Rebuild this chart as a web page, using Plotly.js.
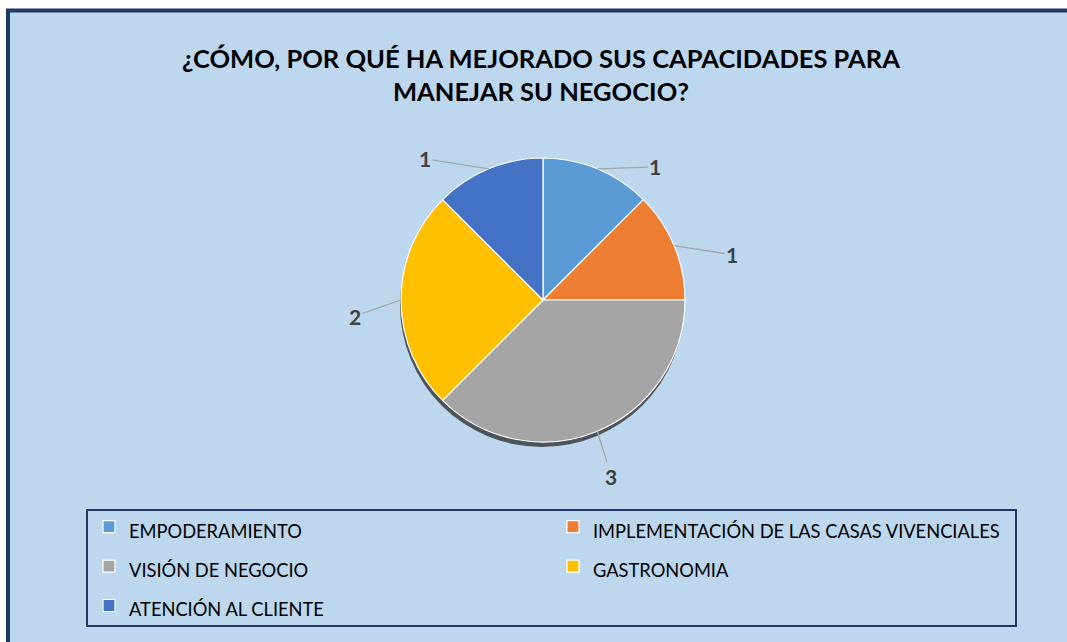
<!DOCTYPE html>
<html>
<head>
<meta charset="utf-8">
<script src="https://cdn.plot.ly/plotly-3.0.1.min.js"></script>
<style>
  html, body { margin: 0; padding: 0; background: #ffffff; }
  #chart { width: 1067px; height: 642px; }
</style>
</head>
<body>
<div id="chart"></div>
<script>
// ---- data ----
const categories = [
  'EMPODERAMIENTO',
  'IMPLEMENTACIÓN DE LAS CASAS VIVENCIALES',
  'VISIÓN DE NEGOCIO',
  'GASTRONOMIA',
  'ATENCIÓN AL CLIENTE'
];
const values = [1, 1, 3, 2, 1];
const titleText = '¿CÓMO, POR QUÉ HA MEJORADO SUS CAPACIDADES PARA<br>MANEJAR SU NEGOCIO?';

// ---- style ----
const sliceColors = ['#5B9BD5', '#ED7D31', '#A5A5A5', '#FFC000', '#4472C4'];
const labelOffsets = [[58, -2], [58, 9], [14, 45], [-46, 16], [-64, -10]]; // px offsets of value labels
const W = 1067, H = 642;
const CX = 543, CY = 300, R = 142;   // pie centre / radius in px
const navy = '#1F3864';

const domainX = [(CX - R) / W, (CX + R) / W];
const domainY = [1 - (CY + R) / H, 1 - (CY - R) / H];
const shadowDY = 5;

const shadow = {
  type: 'pie',
  values: [1],
  labels: ['shadow'],
  showlegend: false,
  sort: false,
  textinfo: 'none',
  hoverinfo: 'skip',
  marker: { colors: ['rgba(40,40,40,0.75)'], line: { width: 0 } },
  domain: { x: [domainX[0] - 1 / W, domainX[1] - 1 / W], y: [domainY[0] - shadowDY / H, domainY[1] - shadowDY / H] }
};

const pie = {
  type: 'pie',
  values: values,
  labels: categories.map(c => '<span style="font-size:18.3px">' + c + '</span>'),
  sort: false,
  direction: 'clockwise',
  rotation: 0,
  textinfo: 'none',
  hoverinfo: 'label+value',
  marker: { colors: sliceColors, line: { color: '#ffffff', width: 1.2 } },
  domain: { x: domainX, y: domainY }
};

// value labels with leader lines, anchored at slice mid-angle on the rim
const total = values.reduce((a, b) => a + b, 0);
let cum = 0;
const annotations = values.map((v, i) => {
  const mid = (cum + v / 2) / total * 2 * Math.PI;
  cum += v;
  const px = CX + R * Math.sin(mid);
  const py = CY - R * Math.cos(mid);
  return {
    xref: 'paper', yref: 'paper',
    x: px / W, y: 1 - py / H,
    ax: labelOffsets[i][0], ay: labelOffsets[i][1],
    text: String(v),
    showarrow: true, arrowhead: 0, arrowwidth: 1.3, arrowcolor: '#A6A6A6', standoff: 0,
    font: { family: 'Lato', size: 21, weight: 700, color: '#404040' }
  };
});

const shapes = [
  // chart area frame
  { type: 'rect', xref: 'paper', yref: 'paper', layer: 'below',
    x0: 8 / W, x1: 1.05, y0: -0.05, y1: 1 - 10.5 / H,
    fillcolor: '#BDD7EE', line: { color: navy, width: 4 } },
  // legend box
  { type: 'rect', xref: 'paper', yref: 'paper', layer: 'below',
    x0: 87 / W, x1: 1016 / W, y0: 1 - 626 / H, y1: 1 - 510 / H,
    fillcolor: 'rgba(0,0,0,0)', line: { color: navy, width: 2 } }
];

const layout = {
  width: W, height: H,
  margin: { l: 0, r: 0, t: 0, b: 0 },
  paper_bgcolor: '#ffffff',
  plot_bgcolor: 'rgba(0,0,0,0)',
  font: { family: 'Lato, "Liberation Sans", sans-serif', color: '#000000' },
  title: {
    text: titleText,
    font: { family: 'Lato', size: 25.5, weight: 700, color: '#000000' },
    x: 541 / W, xanchor: 'center', xref: 'container',
    y: 1 - 68 / H, yanchor: 'middle', yref: 'container'
  },
  showlegend: true,
  legend: {
    orientation: 'h',
    x: 89 / W, xanchor: 'left',
    y: 1 - 502 / H, yanchor: 'top',
    font: { family: 'Lato', size: 28, color: '#000000' },
    entrywidth: 419, entrywidthmode: 'pixels',
    bgcolor: 'rgba(0,0,0,0)', borderwidth: 0,
    traceorder: 'normal'
  },
  shapes: shapes,
  annotations: annotations
};

Plotly.newPlot('chart', [shadow, pie], layout, { displayModeBar: false, staticPlot: true });
</script>
</body>
</html>
